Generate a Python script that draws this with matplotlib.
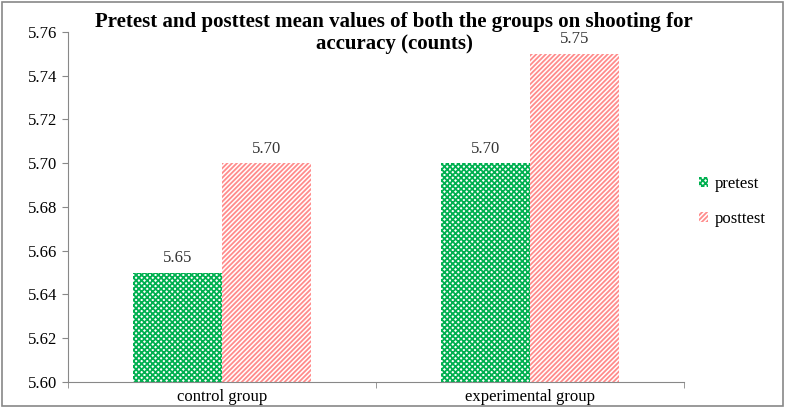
import numpy as np
import matplotlib.pyplot as plt
from matplotlib.patches import Rectangle

plt.rcParams["font.family"] = ["Liberation Serif", "DejaVu Serif"]
plt.rcParams["hatch.linewidth"] = 1.3

groups = ["control group", "experimental group"]
pretest = [5.65, 5.70]
posttest = [5.70, 5.75]
yticks = [5.60, 5.62, 5.64, 5.66, 5.68, 5.70, 5.72, 5.74, 5.76]
title_lines = ["Pretest and posttest mean values of both the groups on shooting for",
               "accuracy (counts)"]

fig = plt.figure(figsize=(7.85, 4.08), dpi=100)
ax = fig.add_axes([68 / 785, 1 - 382 / 408, 616 / 785, 350 / 408])

x = np.arange(len(groups))
w = 0.29
ax.bar(x - w / 2, np.array(pretest) - 5.60, w, bottom=5.60, facecolor="white",
       edgecolor="#00B050", hatch="xxxxxx", linewidth=0, label="pretest")
ax.bar(x + w / 2, np.array(posttest) - 5.60, w, bottom=5.60, facecolor="white",
       edgecolor="#FF8C8C", hatch="///////", linewidth=0, label="posttest")

for xi, v in zip(x - w / 2, pretest):
    ax.text(xi, v + 0.003, f"{v:.2f}", ha="center", va="bottom", fontsize=12, color="#333333")
for xi, v in zip(x + w / 2, posttest):
    ax.text(xi, v + 0.003, f"{v:.2f}", ha="center", va="bottom", fontsize=12, color="#333333")

ax.set_xlim(-0.5, 1.5)
ax.set_ylim(5.60, 5.76)
ax.set_yticks(yticks)
ax.set_yticklabels([f"{t:.2f}" for t in yticks], fontsize=12)
ax.set_xticks(x)
ax.set_xticklabels(groups, fontsize=12)
ax.set_xticks([-0.5, 0.5, 1.5], minor=True)
ax.tick_params(axis="x", which="major", length=0, pad=5)
ax.tick_params(axis="x", which="minor", length=4, direction="out", color="#888888")
ax.tick_params(axis="y", length=4, direction="out", color="#888888")
for s in ["top", "right"]:
    ax.spines[s].set_visible(False)
ax.spines["left"].set_color("#888888")
ax.spines["bottom"].set_color("#888888")

fig.text(394 / 785, 1 - 22 / 408, title_lines[0], ha="center", va="center",
         fontsize=15, fontweight="bold")
fig.text(394 / 785, 1 - 44 / 408, title_lines[1], ha="center", va="center",
         fontsize=15, fontweight="bold")

ax.legend(loc="center left", bbox_to_anchor=(1.0, 0.515), frameon=False, fontsize=12,
          handlelength=0.55, handleheight=0.55, handletextpad=0.4, labelspacing=1.15)

fig.patches.append(Rectangle((0.002, 0.004), 0.995, 0.99, transform=fig.transFigure,
                             fill=False, edgecolor="#888888", linewidth=1.2))

fig.savefig("out.png", dpi=100)
